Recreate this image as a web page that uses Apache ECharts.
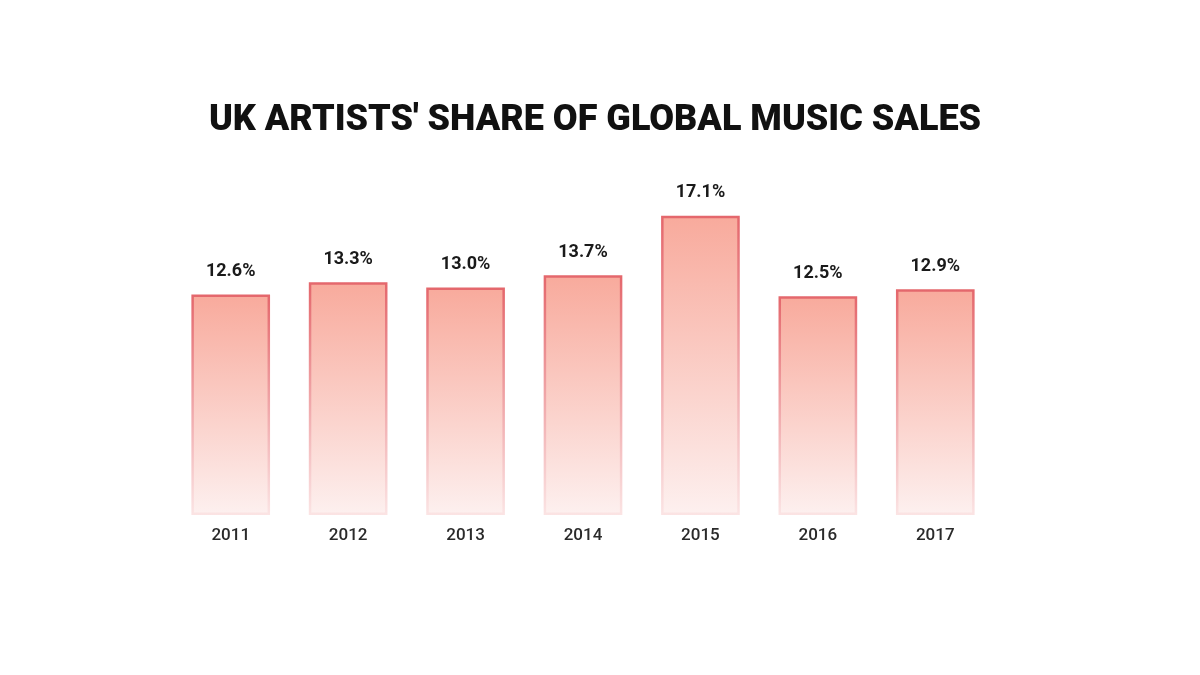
<!DOCTYPE html>
<html><head><meta charset="utf-8">
<script src="https://cdn.jsdelivr.net/npm/echarts@6/dist/echarts.min.js"></script>
<style>html,body{margin:0;padding:0;background:#fff}#c{width:1200px;height:675px}</style>
</head><body><div id="c"></div>
<script>
const titleText = "UK ARTISTS' SHARE OF GLOBAL MUSIC SALES";
const years = ['2011','2012','2013','2014','2015','2016','2017'];
const shares = [12.6, 13.3, 13.0, 13.7, 17.1, 12.5, 12.9];

const chart = echarts.init(document.getElementById('c'));
chart.setOption({
  backgroundColor: '#ffffff',
  animation: false,
  title: {
    text: titleText, left: 590, top: 98, textAlign: 'center',
    textStyle: { fontFamily: 'Roboto', fontWeight: 900, fontSize: 36, color: '#111111' }
  },
  grid: { left: 172, right: 206, top: 165, bottom: 160 },
  xAxis: {
    type: 'category', data: years,
    axisLine: { show: false }, axisTick: { show: false },
    axisLabel: { margin: 12, fontFamily: 'Roboto', fontWeight: 500, fontSize: 17, color: '#2a2a2a' }
  },
  yAxis: { type: 'value', min: 0, max: 20, show: false, splitLine: { show: false } },
  series: [{
    type: 'bar', data: shares, barWidth: '67%',
    itemStyle: {
      color: new echarts.graphic.LinearGradient(0, 0, 0, 1, [
        { offset: 0, color: '#f8aa9c' }, { offset: 1, color: '#fdf0ef' }
      ]),
      borderColor: new echarts.graphic.LinearGradient(0, 0, 0, 1, [
        { offset: 0, color: '#e4676c' }, { offset: 1, color: '#fbe4e4' }
      ]),
      borderWidth: 2.5
    },
    label: {
      show: true, position: 'top', distance: 14,
      formatter: p => p.value.toFixed(1) + '%',
      fontFamily: 'Roboto', fontWeight: 'bold', fontSize: 18, color: '#1a1a1a'
    }
  }]
});
</script></body></html>
